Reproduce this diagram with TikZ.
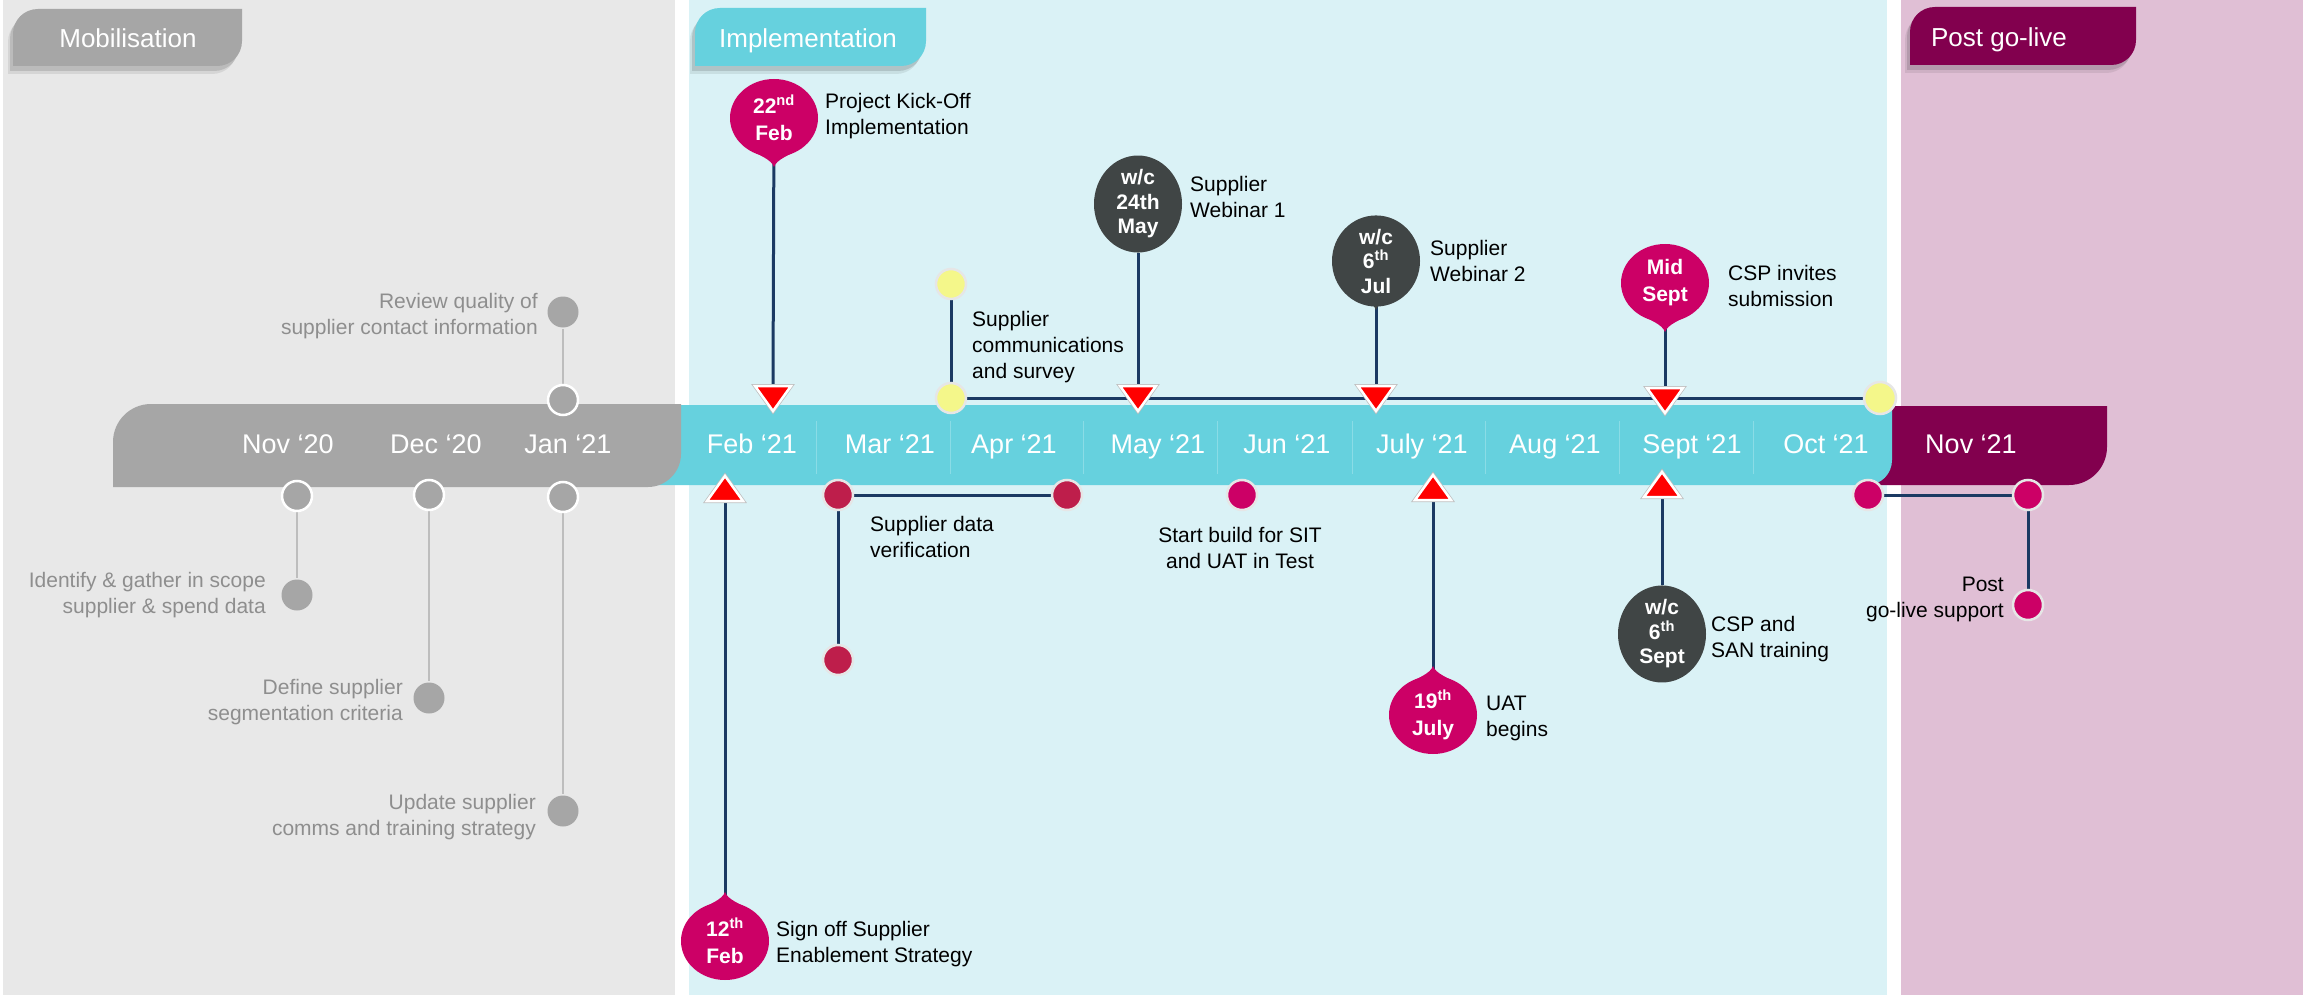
\documentclass[tikz,border=0pt]{standalone}
\usepackage{fontspec}
\setmainfont{Liberation Sans}
\usetikzlibrary{shapes.geometric}

\definecolor{mobbg}{HTML}{E8E8E8}
\definecolor{impbg}{HTML}{DAF2F6}
\definecolor{postbg}{HTML}{E0BFD5}
\definecolor{mobgray}{HTML}{A6A6A6}
\definecolor{impcyan}{HTML}{66D1DE}
\definecolor{postmag}{HTML}{82004E}
\definecolor{magpin}{HTML}{CC0066}
\definecolor{darkpin}{HTML}{404545}
\definecolor{crimson}{HTML}{BE1E4B}
\definecolor{dotyellow}{HTML}{F4F78A}
\definecolor{navy}{HTML}{1B3A63}
\definecolor{mobtext}{HTML}{8E8E8E}
\definecolor{mobline}{HTML}{BDBDBD}
\definecolor{sepline}{HTML}{8ADCE6}
\definecolor{dotring}{HTML}{E6E6E6}

\pgfdeclarelayer{bg}
\pgfdeclarelayer{links}
\pgfsetlayers{bg,links,main}

\tikzset{
  tabpath/.style n args={4}{insert path={(#1,#4) -- (#1,#2+25)
    .. controls (#1,#2+11) and (#1+11,#2) .. (#1+25,#2) -- (#3,#2) -- (#3,#4-25)
    .. controls (#3,#4-11) and (#3-11,#4) .. (#3-25,#4) -- cycle}},
  tipdown/.pic={\path[pic actions] (-27,30) .. controls (-14,38) and (-3,41) .. (0,49)
    .. controls (3,41) and (14,38) .. (27,30) -- cycle;},
  tipup/.pic={\path[pic actions] (-27,-30) .. controls (-14,-38) and (-3,-41) .. (0,-49)
    .. controls (3,-41) and (14,-38) .. (27,-30) -- cycle;},
  tridown/.pic={\draw[black!25, line width=4pt] (-18,0) -- (18,0) -- (0,25) -- cycle;
    \filldraw[fill=red, draw=white, line width=2.5pt] (-18,0) -- (18,0) -- (0,25) -- cycle;},
  triup/.pic={\draw[black!25, line width=4pt] (-18,0) -- (18,0) -- (0,-25) -- cycle;
    \filldraw[fill=red, draw=white, line width=2.5pt] (-18,0) -- (18,0) -- (0,-25) -- cycle;},
}

\begin{document}
\begin{tikzpicture}[x=1pt, y=-1pt,
  lbl/.style={font=\fontsize{21}{26}\selectfont, inner sep=0pt, align=left, anchor=west},
  moblbl/.style={lbl, text=mobtext, align=right, anchor=east},
  month/.style={font=\fontsize{27}{32}\selectfont, text=white, anchor=base, inner sep=0pt},
  tabtxt/.style={font=\fontsize{26}{30}\selectfont, text=white, anchor=base, inner sep=0pt},
  msdot/.style={circle, minimum size=30pt, inner sep=0pt, draw=dotring, line width=2.5pt},
  mobdot/.style={msdot, fill=mobgray, draw=white},
  mobend/.style={msdot, fill=mobgray, draw=none, minimum size=31pt},
  pinball/.style={ellipse, minimum width=88pt, minimum height=78pt, inner sep=0pt,
    text=white, align=center, font=\bfseries\fontsize{21}{27}\selectfont},
  pinthree/.style={pinball, font=\bfseries\fontsize{21}{24.5}\selectfont},
  navylink/.style={draw=navy, line width=3pt},
  moblink/.style={draw=mobline, line width=1.5pt},
]
\useasboundingbox (0,0) rectangle (2303,995);

\begin{pgfonlayer}{bg}
  % Phase panels
  \fill[white] (0,0) rectangle (2303,995);
  \fill[mobbg] (3,0) rectangle (675,995);
  \fill[impbg] (689,0) rectangle (1887,995);
  \fill[postbg] (1901,0) rectangle (2303,995);

  % Phase tabs
  \fill[black, opacity=.08, shift={(-5,8)}, tabpath={13}{9}{242}{66}];
  \fill[black, opacity=.12, shift={(-3,5)}, tabpath={13}{9}{242}{66}];
  \fill[mobgray, tabpath={13}{9}{242}{66}];
  \fill[black, opacity=.08, shift={(-5,8)}, tabpath={695}{8}{926}{66}];
  \fill[black, opacity=.12, shift={(-3,5)}, tabpath={695}{8}{926}{66}];
  \fill[impcyan, tabpath={695}{8}{926}{66}];
  \fill[black, opacity=.08, shift={(-5,8)}, tabpath={1910}{7}{2136}{65}];
  \fill[black, opacity=.12, shift={(-3,5)}, tabpath={1910}{7}{2136}{65}];
  \fill[postmag, tabpath={1910}{7}{2136}{65}];

  % Timeline band
  \fill[postmag] (1870,406) -- (2107,406) -- (2107,447)
    .. controls (2107,468) and (2090,485) .. (2069,485) -- (1870,485) -- cycle;
  \fill[impcyan] (640,405) -- (1892,405) -- (1892,460)
    .. controls (1892,474) and (1881,485) .. (1867,485) -- (640,485) -- cycle;
  \fill[mobgray] (113,487) -- (113,442) .. controls (113,421) and (130,404) .. (151,404)
    -- (681,404) -- (681,454) .. controls (681,472) and (666,487) .. (648,487) -- cycle;
  \foreach \x in {816,950,1083,1217,1352,1485,1619,1753}
    \draw[sepline, line width=1pt] (\x,421) -- (\x,474);
\end{pgfonlayer}

% Tab titles
\node[tabtxt] (tmob) at (128,48) {Mobilisation};
\node[tabtxt] (timp) at (808,48) {Implementation};
\node[tabtxt] (tpost) at (1999,47) {Post go-live};

% Months
\foreach \x/\m [count=\i] in {288/Nov ‘20, 436/Dec ‘20, 568/Jan ‘21, 752/Feb ‘21,
    890/Mar ‘21, 1014/Apr ‘21, 1158/May ‘21, 1287/Jun ‘21, 1422/July ‘21,
    1555/Aug ‘21, 1692/Sept ‘21, 1826/Oct ‘21, 1971/Nov ‘21}
  \node[month] (mon\i) at (\x,453) {\m};

% Mobilisation milestones
\node[mobend] (gtop) at (563,312) {};
\node[mobdot] (gband) at (563,400) {};
\node[mobdot] (gnov) at (297,496) {};
\node[mobdot] (gdec) at (429,495) {};
\node[mobdot] (gjan) at (563,497) {};
\node[mobend] (gnovend) at (297,595) {};
\node[mobend] (gdecend) at (429,698) {};
\node[mobend] (gjanend) at (563,811) {};
\node[moblbl] (lrev) at (538,316) {Review quality of\\supplier contact information};
\node[moblbl] (lid) at (266,595) {Identify \& gather in scope\\supplier \& spend data};
\node[moblbl] (ldef) at (403,702) {Define supplier\\segmentation criteria};
\node[moblbl] (lupd) at (536,817) {Update supplier\\comms and training strategy};

% Implementation: above the band
\coordinate (t22) at (773,386);
\coordinate (tmay) at (1138,386);
\coordinate (tjul) at (1376,386);
\coordinate (tmid) at (1665,388);
\pic[fill=magpin] at (774,118) {tipdown};
\node[pinball, fill=magpin] (p22) at (774,118) {22\textsuperscript{nd}\\Feb};
\pic[fill=darkpin] at (1138,204) {tipdown};
\node[pinthree, fill=darkpin] (pmay) at (1138,204) {w/c\\24th\\May};
\pic[fill=darkpin] at (1376,261) {tipdown};
\node[pinthree, fill=darkpin] (pjul) at (1376,261) {w/c\\6\textsuperscript{th}\\Jul};
\pic[fill=magpin] at (1665,283) {tipdown};
\node[pinball, fill=magpin] (pmid) at (1665,283) {Mid\\Sept};
\node[msdot, fill=dotyellow] (ytop) at (951,284) {};
\node[msdot, fill=dotyellow] (ybot) at (951,398) {};
\node[msdot, fill=dotyellow, minimum size=32pt] (yend) at (1880,398) {};
\foreach \c in {t22,tmay,tjul,tmid}
  \pic at (\c) {tridown};
\node[lbl] (lkick) at (825,116) {Project Kick-Off\\Implementation};
\node[lbl] (lcomm) at (972,347) {Supplier\\communications\\and survey};
\node[lbl] (lweb1) at (1190,197) {Supplier\\Webinar 1};
\node[lbl] (lweb2) at (1430,261) {Supplier\\Webinar 2};
\node[lbl] (lcsp) at (1728,286) {CSP invites\\submission};

% Implementation: below the band
\coordinate (t12) at (725,501);
\coordinate (t19) at (1433,500);
\coordinate (tsep) at (1662,497);
\foreach \c in {t12,t19,tsep}
  \pic at (\c) {triup};
\pic[fill=magpin] at (725,941) {tipup};
\node[pinball, fill=magpin] (p12) at (725,941) {12\textsuperscript{th}\\Feb};
\pic[fill=magpin] at (1433,715) {tipup};
\node[pinball, fill=magpin] (p19) at (1433,715) {19\textsuperscript{th}\\July};
\pic[fill=darkpin] at (1662,634) {tipup};
\node[pinthree, fill=darkpin] (psep) at (1662,634) {w/c\\6\textsuperscript{th}\\Sept};
\node[msdot, fill=crimson] (vstart) at (838,495) {};
\node[msdot, fill=crimson] (vend) at (1067,495) {};
\node[msdot, fill=crimson] (vdown) at (838,660) {};
\node[msdot, fill=magpin] (sit) at (1242,495) {};
\node[msdot, fill=magpin] (pg1) at (1868,495) {};
\node[msdot, fill=magpin] (pg2) at (2028,495) {};
\node[msdot, fill=magpin] (pg3) at (2028,605) {};
\node[lbl] (lsign) at (776,944) {Sign off Supplier\\Enablement Strategy};
\node[lbl] (lver) at (870,537) {Supplier data\\verification};
\node[lbl, align=center, anchor=center] (lsit) at (1240,548) {Start build for SIT\\and UAT in Test};
\node[lbl] (luat) at (1486,718) {UAT\\begins};
\node[lbl] (lsan) at (1711,639) {CSP and\\SAN training};
\node[lbl, align=right, anchor=east] (lpost) at (2004,599) {Post\\go-live support};

\begin{pgfonlayer}{links}
  % Mobilisation connectors
  \draw[moblink] (gtop) -- (gband);
  \draw[moblink] (gnov) -- (gnovend);
  \draw[moblink] (gdec) -- (gdecend);
  \draw[moblink] (gjan) -- (gjanend);
  % Implementation connectors
  \draw[navylink] (p22) -- (t22);
  \draw[navylink] (pmay) -- (tmay);
  \draw[navylink] (pjul) -- (tjul);
  \draw[navylink] (pmid) -- (tmid);
  \draw[navylink] (ytop) -- (ybot);
  \draw[navylink] (ybot) -- (yend);
  \draw[navylink] (t12) -- (p12);
  \draw[navylink] (t19) -- (p19);
  \draw[navylink] (tsep) -- (psep);
  \draw[navylink] (vstart) -- (vend);
  \draw[navylink] (vstart) -- (vdown);
  \draw[navylink] (pg1) -- (pg2);
  \draw[navylink] (pg2) -- (pg3);
\end{pgfonlayer}
\end{tikzpicture}
\end{document}
